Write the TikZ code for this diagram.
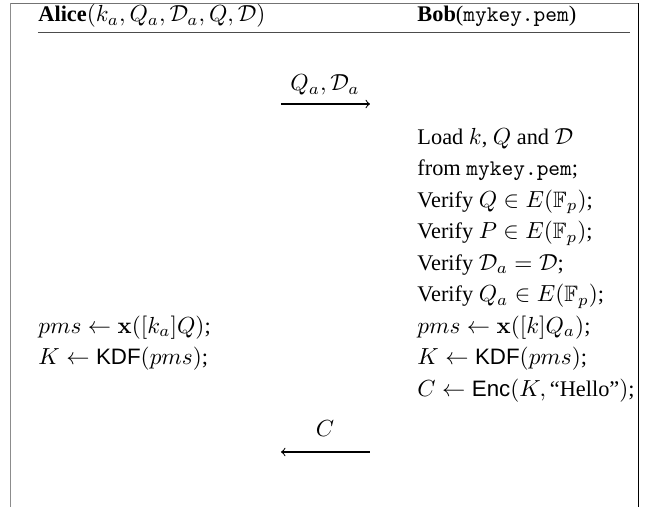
\documentclass[tikz,border=0pt]{standalone}
\usepackage{amsmath,amssymb}
\usepackage[no-math]{fontspec}
\setmainfont{Liberation Serif}
\setsansfont{Liberation Sans}
\begin{document}
\begin{tikzpicture}[x=0.43pt,y=-0.43pt,
  txt/.style={anchor=base west,inner sep=0pt,font=\fontsize{9.6}{11.5}\selectfont},
  lbl/.style={anchor=base,inner sep=0pt,font=\fontsize{9.6}{11.5}\selectfont},
  msg/.style={draw=black,line width=0.45pt,->},
  frameL/.style={draw=black!45,line width=0.85pt},
  frameR/.style={draw=black,line width=0.35pt},
  frameT/.style={draw=black!55,line width=0.45pt},
  rulestyle/.style={draw=black!70,line width=0.5pt}]
\useasboundingbox (0,0) rectangle (647,507);
% frame
\coordinate (tl) at (10.5,3.3);
\coordinate (tr) at (638,3.3);
\coordinate (bl) at (10.5,507);
\coordinate (br) at (638,507);
\draw[frameT] (tl) -- (tr);
\draw[frameL] (tl) -- (bl);
\draw[frameR] (tr) -- (br);
% header
\node[txt] (alice) at (38,22) {\textbf{Alice}$(k_a,Q_a,\mathcal{D}_a,Q,\mathcal{D})$};
\node[txt] (bob) at (417,22) {\textbf{Bob}(\texttt{mykey.pem})};
\coordinate (r1) at (38,32.5);
\coordinate (r2) at (630,32.5);
\draw[rulestyle] (r1) -- (r2);
% message 1
\coordinate (m1a) at (281,104);
\coordinate (m1b) at (370,104);
\draw[msg] (m1a) -- (m1b);
\node[lbl] (m1l) at (325,90.7) {$Q_a,\mathcal{D}_a$};
% Bob's steps
\node[txt] (b1) at (417,144.3) {Load $k$, $Q$ and $\mathcal{D}$};
\node[txt] (b2) at (417,175.8) {from \texttt{mykey.pem};};
\node[txt] (b3) at (417,207.3) {Verify $Q\in E(\mathbb{F}_p)$;};
\node[txt] (b4) at (417,238.8) {Verify $P\in E(\mathbb{F}_p)$;};
\node[txt] (b5) at (417,270.3) {Verify $\mathcal{D}_a=\mathcal{D}$;};
\node[txt] (b6) at (417,301.8) {Verify $Q_a\in E(\mathbb{F}_p)$;};
\node[txt] (b7) at (417,333.3) {$pms\leftarrow\mathbf{x}([k]Q_a)$;};
\node[txt] (b8) at (417,364.8) {$K\leftarrow\text{\sffamily KDF}(pms)$;};
\node[txt] (b9) at (417,396.3) {$C\leftarrow\text{\sffamily Enc}(K,\text{``Hello''})$;};
% Alice's steps
\node[txt] (a1) at (38,333.3) {$pms\leftarrow\mathbf{x}([k_a]Q)$;};
\node[txt] (a2) at (38,364.8) {$K\leftarrow\text{\sffamily KDF}(pms)$;};
% message 2
\coordinate (m2a) at (370,452);
\coordinate (m2b) at (281,452);
\draw[msg] (m2a) -- (m2b);
\node[lbl] (m2l) at (325,437) {$C$};
\end{tikzpicture}
\end{document}
